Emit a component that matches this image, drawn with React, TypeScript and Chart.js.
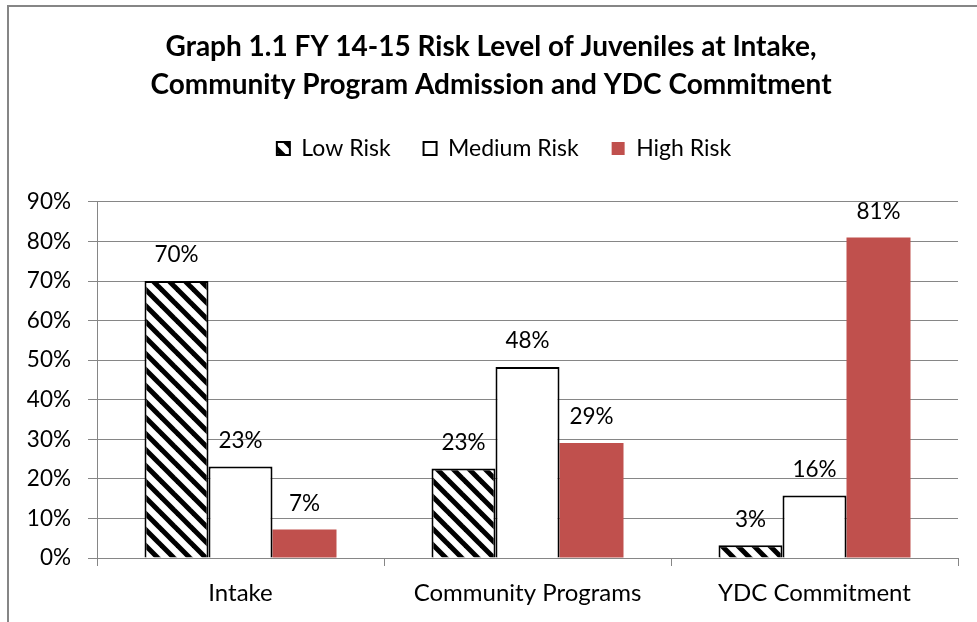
import React, { useEffect, useRef } from "react";
import { Chart, registerables } from "chart.js";

Chart.register(...registerables);

const titleLines = [
  "Graph 1.1 FY 14-15 Risk Level of Juveniles at Intake,",
  "Community Program Admission and YDC Commitment",
];
const categories = ["Intake", "Community Programs", "YDC Commitment"];
const seriesNames = ["Low Risk", "Medium Risk", "High Risk"];
const lowRisk = [70, 22.6, 3.2];
const mediumRisk = [23.1, 48.3, 15.8];
const highRisk = [7.2, 29.1, 81.0];
const yMin = 0;
const yMax = 90;
const yStep = 10;

const FONT = "Lato";
const GRID = "#868686";

function makeHatch(): CanvasPattern | string {
  const c = document.createElement("canvas");
  const s = 16;
  c.width = s;
  c.height = s;
  const g = c.getContext("2d");
  if (!g) return "#000";
  g.fillStyle = "#fff";
  g.fillRect(0, 0, s, s);
  g.strokeStyle = "#000";
  g.lineWidth = 5;
  for (const off of [-s, 0, s]) {
    g.beginPath();
    g.moveTo(-4, -4 + off);
    g.lineTo(s + 4, s + 4 + off);
    g.stroke();
  }
  return g.createPattern(c, "repeat") || "#000";
}

const dataLabels = {
  id: "dataLabels",
  afterDatasetsDraw(chart: any) {
    const ctx = chart.ctx;
    ctx.save();
    ctx.font = `22.5px ${FONT}`;
    ctx.fillStyle = "#000";
    ctx.textAlign = "center";
    ctx.textBaseline = "middle";
    chart.data.datasets.forEach((ds: any, i: number) => {
      const meta = chart.getDatasetMeta(i);
      meta.data.forEach((el: any, j: number) => {
        const v = ds.data[j];
        ctx.fillText(`${Math.round(v)}%`, el.x, el.y - 26);
      });
    });
    ctx.restore();
  },
};

const shiftBlocks = {
  id: "shiftBlocks",
  afterLayout(chart: any) {
    if (chart.legend) {
      chart.legend.left += 25;
      chart.legend.right += 25;
    }
    if (chart.titleBlock) {
      chart.titleBlock.left += 12;
      chart.titleBlock.right += 12;
    }
  },
};

export default function App() {
  const ref = useRef<HTMLCanvasElement>(null);
  useEffect(() => {
    if (!ref.current) return;
    const hatch = makeHatch();
    const chart = new Chart(ref.current, {
      type: "bar",
      data: {
        labels: categories,
        datasets: [
          {
            label: seriesNames[0],
            data: lowRisk,
            backgroundColor: hatch as any,
            borderColor: "#000",
            borderWidth: 2,
          },
          {
            label: seriesNames[1],
            data: mediumRisk,
            backgroundColor: "#fff",
            borderColor: "#000",
            borderWidth: 2,
          },
          {
            label: seriesNames[2],
            data: highRisk,
            backgroundColor: "#C0504D",
            borderColor: "#C0504D",
            borderWidth: 0,
          },
        ],
      },
      options: {
        responsive: false,
        animation: false,
        events: [],
        datasets: {
          bar: { barPercentage: 1, categoryPercentage: 0.669 },
        },
        layout: { padding: { left: 0, right: 19, top: 0, bottom: 0 } },
        plugins: {
          title: {
            display: true,
            text: titleLines,
            color: "#000",
            font: { family: FONT, size: 28, weight: "bold", lineHeight: 1.357 },
            padding: { top: 28, bottom: 0 },
          },
          legend: {
            labels: {
              color: "#000",
              font: { family: FONT, size: 23 },
              boxWidth: 13,
              boxHeight: 13,
              padding: 33,
            },
          },
          tooltip: { enabled: false },
        },
        scales: {
          x: {
            grid: {
              display: true,
              drawOnChartArea: false,
              tickLength: 8,
              color: GRID,
              offset: true,
            },
            border: { color: GRID, width: 1 },
            ticks: { color: "#000", font: { family: FONT, size: 24 }, padding: 13 },
            afterFit: (s: any) => {
              s.height = 64;
            },
          },
          xSpace: {
            type: "category",
            position: "top",
            display: true,
            grid: { display: false },
            border: { display: false },
            ticks: { display: false },
            afterFit: (s: any) => {
              s.height = 32;
            },
          },
          y: {
            min: yMin,
            max: yMax,
            ticks: {
              stepSize: yStep,
              color: "#000",
              font: { family: FONT, size: 22.5 },
              padding: 17,
              callback: (v: any) => `${v}%`,
            },
            grid: { color: GRID, tickLength: 9 },
            border: { color: GRID, width: 1 },
            afterFit: (s: any) => {
              s.width = 97;
            },
          },
        } as any,
      },
      plugins: [dataLabels, shiftBlocks],
    });
    return () => chart.destroy();
  }, []);

  return (
    <div
      style={{
        position: "absolute",
        left: 0,
        top: 0,
        width: 977,
        height: 622,
        overflow: "hidden",
        background: "#fff",
      }}
    >
      <div
        style={{
          position: "absolute",
          left: 7,
          top: 5,
          width: 1100,
          height: 1100,
          border: `2px solid ${GRID}`,
          boxSizing: "border-box",
        }}
      />
      <canvas
        ref={ref}
        width={977}
        height={622}
        style={{ position: "absolute", left: 0, top: 0 }}
      />
    </div>
  );
}
